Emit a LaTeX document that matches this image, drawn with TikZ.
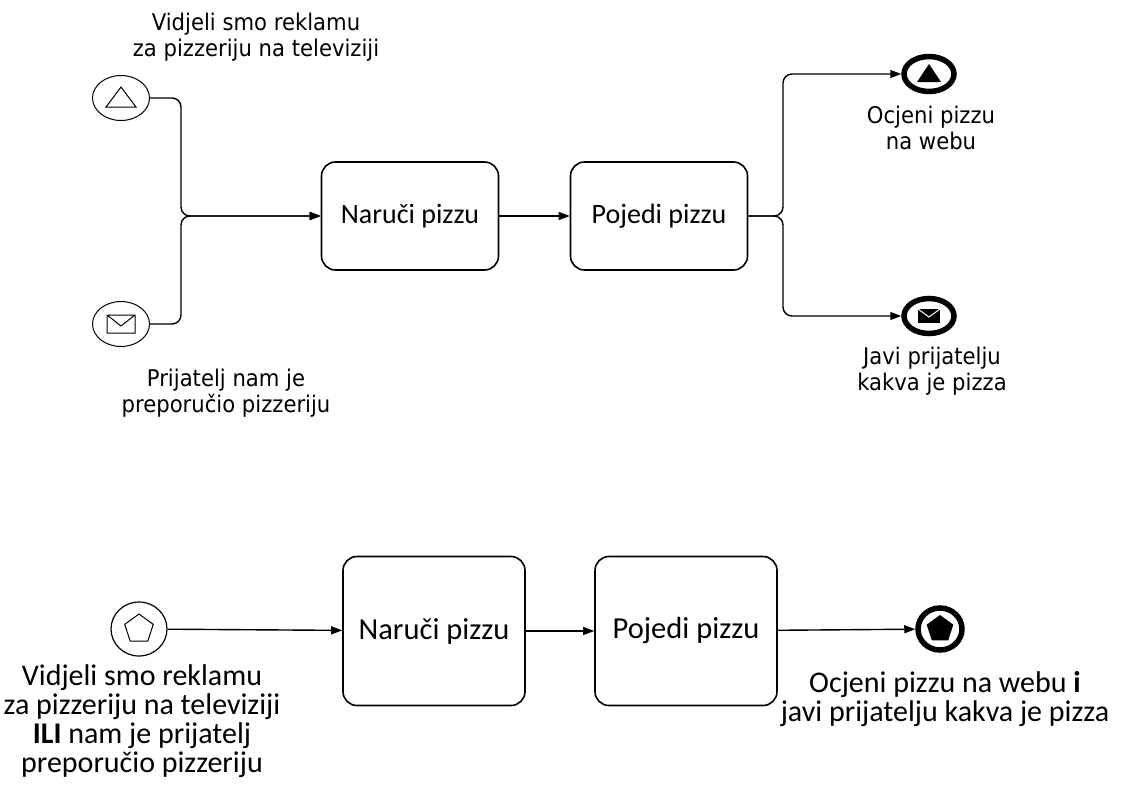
\documentclass[tikz,border=0pt]{standalone}
\usepackage{fontspec}
\setmainfont{Carlito}
\newfontfamily\tahomafont[FakeStretch=0.92]{DejaVu Sans}
\usetikzlibrary{arrows.meta,shapes.geometric}

\tikzset{
    flow/.style={draw, line width=1.4pt, rounded corners=9pt, -{Triangle[length=11pt, width=8pt]}},
    task/.style={draw, line width=1.6pt, rounded corners=14pt, minimum width=177pt, minimum height=108pt, font=\fontsize{28}{32}\selectfont},
    bigtask/.style={task, minimum width=182pt, minimum height=149pt, font=\fontsize{30.5}{34}\selectfont},
    startev/.style={ellipse, draw, line width=1pt, minimum width=57pt, minimum height=45pt, inner sep=0pt},
    endev/.style={ellipse, draw, line width=5.5pt, minimum width=50pt, minimum height=35pt, inner sep=0pt},
    evlabel/.style={align=center, font=\tahomafont\fontsize{23}{26}\selectfont},
    biglabel/.style={align=center, font=\fontsize{30}{29}\selectfont},
}

\begin{document}
\begin{tikzpicture}[x=1pt, y=-1pt]
    \useasboundingbox (0,0) rectangle (1125,798);

    % upper diagram
    \node[startev] (s1) at (121,98) {};
    \node[startev] (s2) at (121,324) {};
    \node[task] (t1) at (410,216) {Naruči pizzu};
    \node[task] (t2) at (659,216) {Pojedi pizzu};
    \node[endev] (e1) at (929,74) {};
    \node[endev] (e2) at (929,316) {};
    \coordinate (j1) at (181,216);
    \coordinate (j2) at (783,216);

    \draw[line width=1pt, shift={(s1.center)}] (-15,9) -- (0,-11) -- (15,9) -- cycle;
    \draw[line width=1pt, shift={(s2.center)}] (-14,-9) rectangle (14,9) (-14,-9) -- (0,2) -- (14,-9);
    \fill[shift={(e1.center)}] (-12,8) -- (0,-10) -- (12,8) -- cycle;
    \fill[shift={(e2.center)}] (-11,-7) rectangle (11,7);
    \draw[white, line width=1pt, shift={(e2.center)}] (-11,-7) -- (0,1) -- (11,-7);

    \draw[flow] (s1) -| (j1) -- (t1);
    \draw[flow] (s2) -| (j1) -- (t1);
    \draw[flow] (t1) -- (t2);
    \draw[flow] (t2) -- (j2) |- (e1);
    \draw[flow] (t2) -- (j2) |- (e2);

    \node[evlabel] (l1) at (256,37) {Vidjeli smo reklamu\\za pizzeriju na televiziji};
    \node[evlabel] (l2) at (226,393) {Prijatelj nam je\\preporučio pizzeriju};
    \node[evlabel] (l3) at (931,128) {Ocjeni pizzu\\na webu};
    \node[evlabel] (l4) at (932,371) {Javi prijatelju\\kakva je pizza};

    % lower diagram
    \node[startev, minimum width=56pt, minimum height=54pt, line width=1.2pt] (s3) at (139,629) {};
    \node[bigtask] (b1) at (434,631) {Naruči pizzu};
    \node[bigtask] (b2) at (686,631) {Pojedi pizzu};
    \node[endev, minimum width=44pt, minimum height=42pt] (e3) at (940,629) {};

    \draw[line width=1pt, shift={(s3.center)}] (-90:15) foreach \a in {-18,54,126,198} { -- (\a:15) } -- cycle;
    \fill[shift={(e3.center)}] (-90:14) foreach \a in {-18,54,126,198} { -- (\a:14) } -- cycle;

    \draw[flow] (s3) -- (b1);
    \draw[flow] (b1) -- (b2);
    \draw[flow] (b2) -- (e3);

    \node[biglabel] (l5) at (142,721) {Vidjeli smo reklamu\\za pizzeriju na televiziji\\\textbf{ILI} nam je prijatelj\\preporučio pizzeriju};
    \node[biglabel] (l6) at (945,699) {Ocjeni pizzu na webu \textbf{i}\\javi prijatelju kakva je pizza};
\end{tikzpicture}
\end{document}
